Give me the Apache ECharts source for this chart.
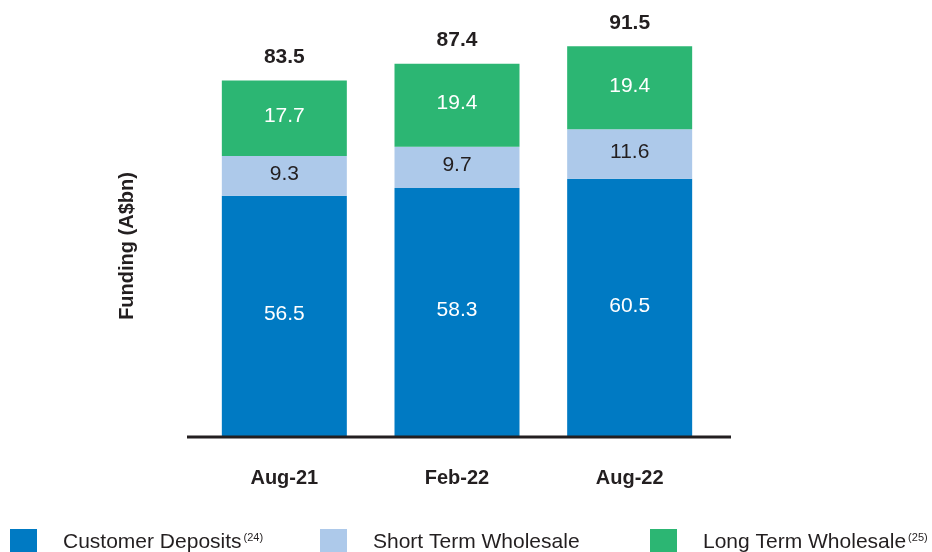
<!DOCTYPE html>
<html>
<head>
<meta charset="utf-8">
<script src="https://cdn.jsdelivr.net/npm/echarts@6/dist/echarts.min.js"></script>
<style>html,body{margin:0;padding:0;background:#fff}#c{width:932px;height:552px}</style>
</head>
<body>
<div id="c"></div>
<script>
var categories = ['Aug-21', 'Feb-22', 'Aug-22'];
var customerDeposits = [56.5, 58.3, 60.5];
var shortTermWholesale = [9.3, 9.7, 11.6];
var longTermWholesale = [17.7, 19.4, 19.4];
var totals = [83.5, 87.4, 91.5];

var FONT = '"Liberation Sans", Arial, sans-serif';
var DARK = '#231f20';
var chart = echarts.init(document.getElementById('c'), null, {renderer: 'canvas'});

function insideLabel(color) {
  return {show: true, position: 'inside', offset: [0, -2], color: color, fontSize: 21, fontFamily: FONT,
    formatter: function (p) { return p.value.toFixed(1); }};
}
var legendBase = {
  bottom: -4, padding: 0, itemWidth: 27, itemHeight: 27, icon: 'rect', itemGap: 0,
  textStyle: {fontSize: 21, fontFamily: FONT, color: DARK, padding: [0, 0, 0, 21],
    rich: {s: {fontSize: 11, fontFamily: FONT, color: DARK, verticalAlign: 'top', padding: [0, 0, 10, 2]},
           t: {fontSize: 21, fontFamily: FONT, color: DARK}}},
  selectedMode: false
};
function legendAt(left, name, fmt) {
  var l = JSON.parse(JSON.stringify(legendBase));
  l.left = left; l.data = [name];
  if (fmt) l.formatter = fmt;
  return l;
}

chart.setOption({
  animation: false,
  grid: {left: 198, right: 216, top: 10, bottom: 115},
  xAxis: {
    type: 'category', data: categories,
    axisLine: {show: false}, axisTick: {show: false},
    axisLabel: {margin: 31, fontSize: 20, fontWeight: 'bold', color: DARK, fontFamily: FONT}
  },
  yAxis: {type: 'value', min: 0, max: 100, show: false, splitLine: {show: false}},
  legend: [
    legendAt(10, 'Customer Deposits', function () { return '{t|Customer Deposits}{s|(24)}'; }),
    legendAt(320, 'Short Term Wholesale'),
    legendAt(650, 'Long Term Wholesale', function () { return '{t|Long Term Wholesale}{s|(25)}'; })
  ],
  graphic: [
    {type: 'line', shape: {x1: 187, y1: 437, x2: 731, y2: 437}, style: {stroke: DARK, lineWidth: 3}, z: 100},
    {type: 'text', x: 127, y: 246, rotation: Math.PI / 2,
      style: {text: 'Funding (A$bn)', fill: DARK, font: 'bold 20px ' + FONT,
        textAlign: 'center', textVerticalAlign: 'middle'}}
  ],
  series: [
    {name: 'Customer Deposits', type: 'bar', stack: 'f', barWidth: 125, data: customerDeposits,
      itemStyle: {color: '#007ac3'}, label: insideLabel('#ffffff')},
    {name: 'Short Term Wholesale', type: 'bar', stack: 'f', barWidth: 125, data: shortTermWholesale,
      itemStyle: {color: '#adc9ea'}, label: insideLabel(DARK)},
    {name: 'Long Term Wholesale', type: 'bar', stack: 'f', barWidth: 125, data: longTermWholesale,
      itemStyle: {color: '#2cb673'}, label: insideLabel('#ffffff')},
    {name: 'Total', type: 'bar', stack: 'f', barWidth: 125, data: totals.map(function () { return 0; }),
      itemStyle: {color: 'transparent'},
      label: {show: true, position: 'top', distance: 13, fontSize: 21, fontWeight: 'bold', color: DARK, fontFamily: FONT,
        formatter: function (p) { return totals[p.dataIndex].toFixed(1); }}}
  ]
});
</script>
</body>
</html>
